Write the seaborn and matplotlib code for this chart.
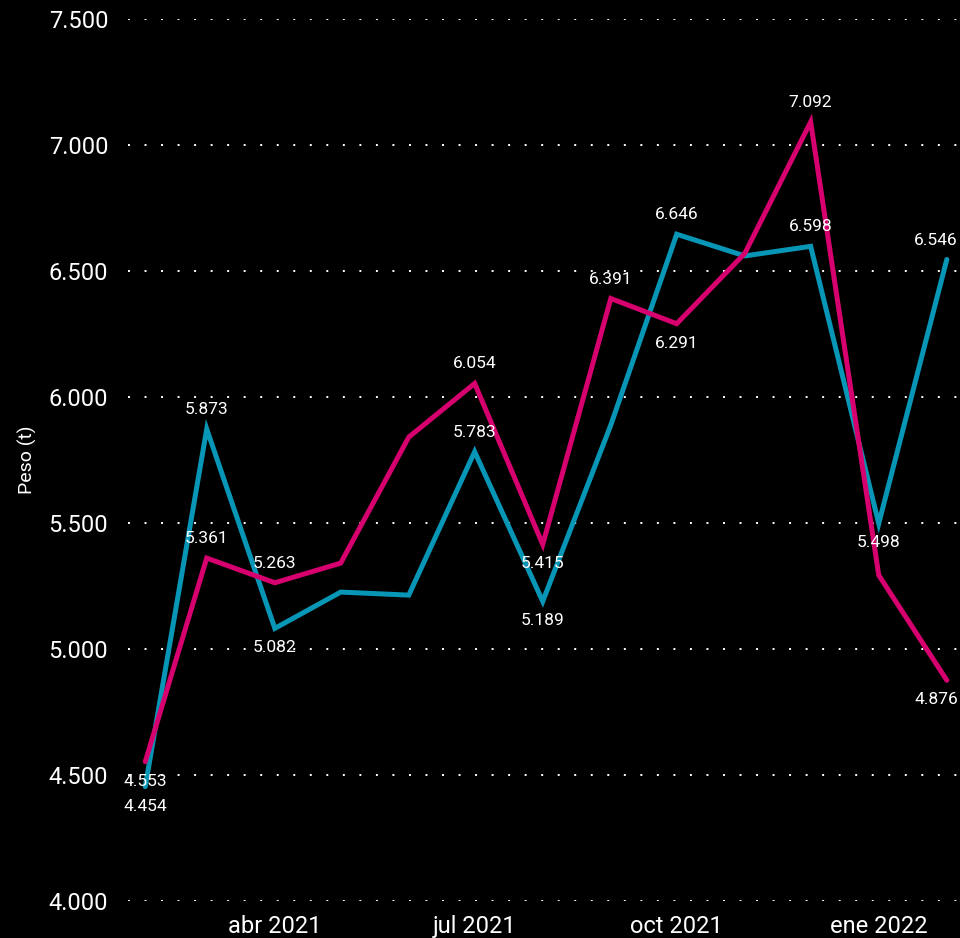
import pandas as pd
import matplotlib
matplotlib.use("Agg")
import matplotlib.pyplot as plt
from matplotlib.ticker import FuncFormatter
import seaborn as sns

# %%
meses = pd.date_range("2021-02-01", "2022-02-01", freq="MS")

peso_azul = [4454, 5873, 5082, 5226, 5214, 5783, 5189, 5889, 6646, 6560, 6598, 5498, 6546]
peso_rosa = [4553, 5361, 5263, 5341, 5841, 6054, 5415, 6391, 6291, 6570, 7092, 5293, 4876]

# which points carry a label (None = no label)
etiq_azul = [4454, 5873, 5082, None, None, 5783, 5189, None, 6646, None, 6598, 5498, 6546]
etiq_rosa = [4553, 5361, 5263, None, None, 6054, 5415, 6391, 6291, None, 7092, None, 4876]

# label side: 1 above, -1 below
lado_azul = [-1, 1, -1, 0, 0, 1, -1, 0, 1, 0, 1, -1, 1]
lado_rosa = [-1, 1, 1, 0, 0, 1, -1, 1, -1, 0, 1, 0, -1]

ticks_y = [4000, 4500, 5000, 5500, 6000, 6500, 7000, 7500]
ticks_x = pd.to_datetime(["2021-04-01", "2021-07-01", "2021-10-01", "2022-01-01"])
etiquetas_x = ["abr 2021", "jul 2021", "oct 2021", "ene 2022"]

azul = "#0896b6"
rosa = "#d6006f"

df = pd.DataFrame({
    "mes": list(meses) * 2,
    "peso": peso_azul + peso_rosa,
    "serie": ["azul"] * len(meses) + ["rosa"] * len(meses),
})

# %%
sns.set_style("dark", {"axes.facecolor": "black", "figure.facecolor": "black"})
plt.rcParams["font.family"] = ["Roboto", "DejaVu Sans"]

fig = plt.figure(figsize=(9.6, 9.38), dpi=100)
ax = fig.add_axes([0.133, 0.0394, 0.867, 0.9403])
ax.set_facecolor("black")

sns.lineplot(
    data=df, x="mes", y="peso", hue="serie",
    palette={"azul": azul, "rosa": rosa},
    linewidth=3.6, legend=False, ax=ax,
    solid_capstyle="round", solid_joinstyle="miter",
)

ultimo = len(meses) - 1
for vals, etiq, lado in [(peso_azul, etiq_azul, lado_azul), (peso_rosa, etiq_rosa, lado_rosa)]:
    for i, (m, v, e, s) in enumerate(zip(meses, vals, etiq, lado)):
        if e is None:
            continue
        # keep the last labels inside the plot, like the original
        dx, ha = (8, "right") if i == ultimo else (0, "center")
        ax.annotate(f"{e:,}".replace(",", "."), (m, v), xytext=(dx, 14 * s),
                    textcoords="offset points", ha=ha, va="center",
                    color="white", fontsize=12.5, zorder=5)

ax.set_ylim(4000, 7500)
ax.set_xlim(pd.Timestamp("2021-01-24"), pd.Timestamp("2022-02-07"))
ax.set_yticks(ticks_y)
ax.yaxis.set_major_formatter(FuncFormatter(lambda v, p: f"{int(v):,}".replace(",", ".")))
ax.set_xticks(ticks_x)
ax.set_xticklabels(etiquetas_x)

ax.grid(False)
ax.yaxis.grid(True, color="white", linestyle=(0, (1, 7.5)), linewidth=1.4)
ax.set_axisbelow(True)
for sp in ax.spines.values():
    sp.set_visible(False)

ax.tick_params(axis="both", colors="white", labelsize=17, length=0)
ax.tick_params(axis="y", pad=14)
ax.tick_params(axis="x", pad=10)
ax.set_xlabel("")
ax.set_ylabel("Peso (t)", color="white", fontsize=14, labelpad=8)

fig.savefig("out.png", dpi=100, facecolor="black")
